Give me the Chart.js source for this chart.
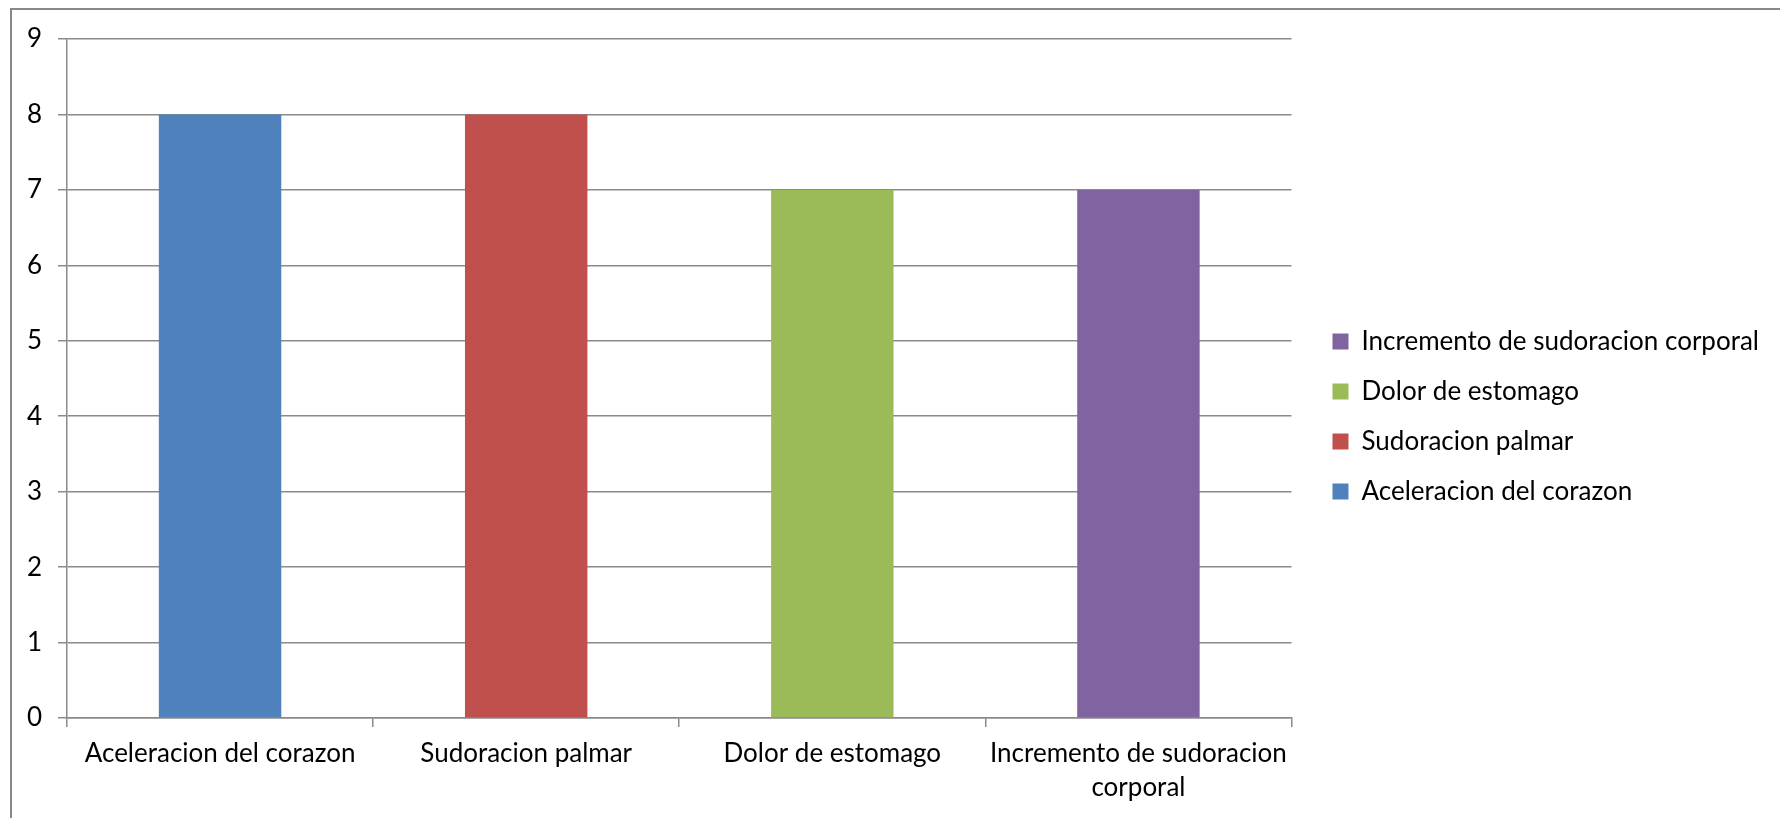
<!DOCTYPE html>
<html>
<head>
<meta charset="utf-8">
<script src="https://cdn.jsdelivr.net/npm/chart.js@4/dist/chart.umd.min.js"></script>
<style>
  html, body { margin: 0; padding: 0; background: #fff; overflow: hidden; }
  #frame { position: absolute; left: 10px; top: 8px; width: 1800px; height: 840px;
           border-top: 2px solid #888; border-left: 2px solid #888; }
  #wrap { position: absolute; left: 0; top: 0; width: 1780px; height: 818px; }
</style>
</head>
<body>
<div id="frame"></div>
<div id="wrap"><canvas id="canvas"></canvas></div>
<script>
// symptoms and how many people reported each one
var categories = ['Aceleracion del corazon', 'Sudoracion palmar', 'Dolor de estomago', 'Incremento de sudoracion corporal'];
var tickLabels = [['Aceleracion del corazon'], ['Sudoracion palmar'], ['Dolor de estomago'], ['Incremento de sudoracion', 'corporal']];
var counts = [8, 8, 7, 7];
var colors = ['#4F81BD', '#C0504D', '#9BBB59', '#8064A2'];
var yTicks = [0, 1, 2, 3, 4, 5, 6, 7, 8, 9];

var gridColor = '#8a8a8a';
var fontFamily = 'Lato, "Open Sans", sans-serif';

const ctx = document.getElementById('canvas').getContext('2d');
const myChart = new Chart(ctx, {
  type: 'bar',
  data: {
    labels: categories,
    datasets: [{
      label: 'Sintomas',
      data: counts,
      backgroundColor: colors,
      borderWidth: 0,
      categoryPercentage: 1,
      barPercentage: 0.4
    }]
  },
  options: {
    responsive: true,
    maintainAspectRatio: false,
    animation: false,
    layout: { padding: { top: 15, bottom: 0, left: 0, right: 11 } },
    scales: {
      x: {
        offset: true,
        grid: { drawOnChartArea: false, drawTicks: true, tickLength: 9, color: gridColor, lineWidth: 1.5, offset: true },
        border: { color: gridColor, width: 1.5 },
        ticks: {
          color: '#000',
          font: { family: fontFamily, size: 26, lineHeight: 1.3 },
          padding: 10,
          maxRotation: 0,
          autoSkip: false,
          callback: function (v, i) { return tickLabels[i]; }
        },
        afterFit: function (s) { s.height = 100; }
      },
      y: {
        min: 0,
        max: 9,
        afterBuildTicks: function (s) { s.ticks = yTicks.map(function (v) { return { value: v }; }); },
        grid: { color: gridColor, lineWidth: 1.5, tickLength: 9 },
        border: { color: gridColor, width: 1.5 },
        ticks: { color: '#000', font: { family: fontFamily, size: 26 }, padding: 16 },
        afterFit: function (s) { s.width = 67; }
      },
      // empty spacer between the plot and the legend
      gap: {
        type: 'linear',
        position: 'right',
        grid: { display: false },
        border: { display: false },
        ticks: { display: false },
        afterFit: function (s) { s.width = 17; }
      }
    },
    plugins: {
      tooltip: { enabled: false },
      title: { display: true, text: '', padding: 0, font: { size: 20, lineHeight: 1.2 } },
      legend: {
        position: 'right',
        maxWidth: 471,
        labels: {
          color: '#000',
          font: { family: fontFamily, size: 26 },
          boxWidth: 16,
          boxHeight: 16,
          padding: 24,
          generateLabels: function (chart) {
            return categories.map(function (c, i) {
              return { text: c, fillStyle: colors[i], strokeStyle: colors[i], lineWidth: 0, index: i, hidden: false };
            }).reverse();
          }
        }
      }
    }
  }
});
</script>
</body>
</html>
